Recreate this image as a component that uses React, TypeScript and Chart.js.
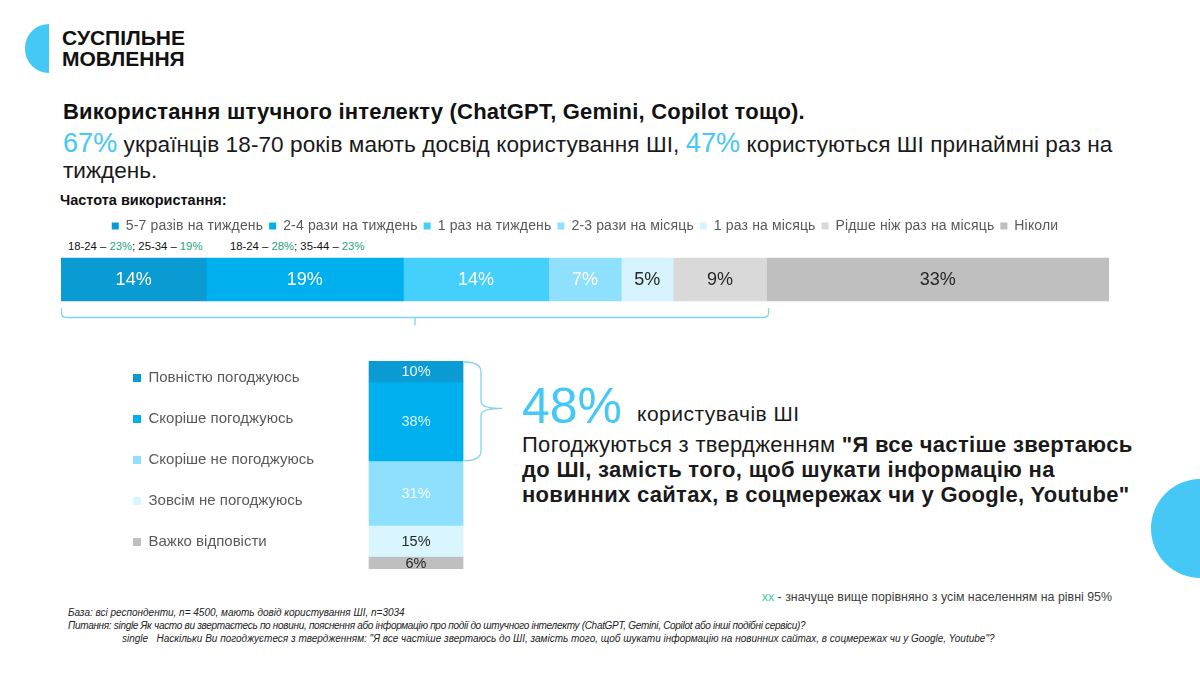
import React, { useEffect, useRef } from "react";
import { Chart, registerables } from "chart.js";

Chart.register(...registerables);

const FONT = "'Liberation Sans', Arial, sans-serif";
Chart.defaults.font.family = FONT;

// ---------- data ----------
const freqLabels = [
  "5-7 разів на тиждень",
  "2-4 рази на тиждень",
  "1 раз на тиждень",
  "2-3 рази на місяць",
  "1 раз на місяць",
  "Рідше ніж раз на місяць",
  "Ніколи",
];
const freqValues = [14, 19, 14, 7, 5, 9, 33];
const freqColors = ["#0a9bd2", "#00b0ee", "#45cffb", "#8fe0fc", "#d6f3fd", "#d9d9d9", "#bfbfbf"];
const freqTextColors = ["#ffffff", "#ffffff", "#ffffff", "#ffffff", "#262626", "#262626", "#262626"];
const freqBracketSeries = 6; // series covered by the bracket (users of AI)

const agreeLabels = [
  "Повністю погоджуюсь",
  "Скоріше погоджуюсь",
  "Скоріше не погоджуюсь",
  "Зовсім не погоджуюсь",
  "Важко відповісти",
];
const agreeValues = [10, 38, 31, 15, 6];
const agreeColors = ["#0a9bd2", "#00b0ee", "#8fe0fc", "#d9f5fd", "#bfbfbf"];
const agreeTextColors = ["#eaf7fc", "#d8f2fb", "#f4fbff", "#262626", "#262626"];
const agreeBracketSeries = 2;

const ACCENT = "#45c8f5";
const BRACKET = "#7fd3f2";

// ---------- plugins ----------
const spacingPlugin = {
  id: "spacing",
  beforeUpdate(chart: any, _a: any, opts: any) {
    (chart.ctx as any).letterSpacing = opts.value || "0px";
  },
  beforeDraw(chart: any, _a: any, opts: any) {
    (chart.ctx as any).letterSpacing = opts.value || "0px";
  },
};

const segLabels = {
  id: "segLabels",
  afterDatasetsDraw(chart: any, _a: any, opts: any) {
    const { ctx } = chart;
    ctx.save();
    (ctx as any).letterSpacing = "0px";
    ctx.textAlign = "center";
    ctx.textBaseline = "middle";
    ctx.font = `${opts.size || 16}px ${FONT}`;
    chart.data.datasets.forEach((ds: any, i: number) => {
      const meta = chart.getDatasetMeta(i);
      meta.data.forEach((el: any, j: number) => {
        const p = el.getCenterPoint();
        ctx.fillStyle = opts.colors[i];
        ctx.fillText(`${ds.data[j]}%`, p.x, p.y + 1);
      });
    });
    ctx.restore();
  },
};

const hBracket = {
  id: "hBracket",
  afterDatasetsDraw(chart: any) {
    const { ctx } = chart;
    const xs = chart.scales.x;
    const el = chart.getDatasetMeta(0).data[0];
    const end = freqValues.slice(0, freqBracketSeries).reduce((a, b) => a + b, 0);
    const x0 = xs.getPixelForValue(0) + 0.5;
    const x1 = xs.getPixelForValue(end) + 2;
    const bottom = el.y + el.height / 2;
    const yTop = bottom + 7;
    const yLine = bottom + 16.5;
    const r = 5;
    const mid = (x0 + x1) / 2;
    ctx.save();
    ctx.strokeStyle = BRACKET;
    ctx.lineWidth = 1.3;
    ctx.beginPath();
    ctx.moveTo(x0, yTop);
    ctx.lineTo(x0, yLine - r);
    ctx.quadraticCurveTo(x0, yLine, x0 + r, yLine);
    ctx.lineTo(x1 - r, yLine);
    ctx.quadraticCurveTo(x1, yLine, x1, yLine - r);
    ctx.lineTo(x1, yTop);
    ctx.moveTo(mid, yLine);
    ctx.lineTo(mid, yLine + 8);
    ctx.stroke();
    ctx.restore();
  },
};

const vBracket = {
  id: "vBracket",
  afterDatasetsDraw(chart: any) {
    const { ctx } = chart;
    const ys = chart.scales.y;
    const el = chart.getDatasetMeta(0).data[0];
    const end = agreeValues.slice(0, agreeBracketSeries).reduce((a, b) => a + b, 0);
    const right = el.x + el.width / 2 + 1;
    const top = ys.getPixelForValue(0) + 1;
    const bot = ys.getPixelForValue(end);
    const mid = (top + bot) / 2 - 3;
    const xv = right + 17;
    const tip = right + 38;
    ctx.save();
    ctx.strokeStyle = BRACKET;
    ctx.lineWidth = 1.3;
    ctx.beginPath();
    ctx.moveTo(right, top);
    ctx.quadraticCurveTo(xv, top, xv, top + 10);
    ctx.lineTo(xv, mid - 7);
    ctx.quadraticCurveTo(xv, mid, tip, mid);
    ctx.moveTo(tip, mid);
    ctx.quadraticCurveTo(xv, mid, xv, mid + 7);
    ctx.lineTo(xv, bot - 10);
    ctx.quadraticCurveTo(xv, bot, right, bot);
    ctx.stroke();
    ctx.restore();
  },
};

// ---------- charts ----------
function FrequencyChart() {
  const ref = useRef<HTMLCanvasElement | null>(null);
  useEffect(() => {
    if (!ref.current) return;
    const total = freqValues.reduce((a, b) => a + b, 0);
    const chart = new Chart(ref.current, {
      type: "bar",
      data: {
        labels: [""],
        datasets: freqLabels.map((l, i) => ({
          label: l,
          data: [freqValues[i]],
          backgroundColor: freqColors[i],
          borderWidth: 0,
          barThickness: 43,
        })),
      },
      options: {
        indexAxis: "y",
        animation: false,
        responsive: true,
        maintainAspectRatio: false,
        layout: { padding: { left: 0, right: 0, top: 0, bottom: 14 } },
        scales: {
          x: { stacked: true, display: false, min: 0, max: total },
          y: { stacked: true, display: false },
        },
        plugins: {
          spacing: { value: "0.15px" },
          legend: {
            position: "top",
            labels: {
              boxWidth: 7,
              boxHeight: 7,
              padding: 6,
              color: "#595959",
              font: { size: 14, family: FONT },
            },
          },
          tooltip: { enabled: false },
          segLabels: { size: 18, colors: freqTextColors },
        } as any,
      },
      plugins: [spacingPlugin, segLabels, hBracket],
    });
    return () => chart.destroy();
  }, []);
  return (
    <div style={{ position: "absolute", left: 61, top: 213, width: 1048, height: 117 }}>
      <canvas ref={ref} />
    </div>
  );
}

function AgreeChart() {
  const ref = useRef<HTMLCanvasElement | null>(null);
  useEffect(() => {
    if (!ref.current) return;
    const total = agreeValues.reduce((a, b) => a + b, 0);
    const chart = new Chart(ref.current, {
      type: "bar",
      data: {
        labels: [""],
        datasets: agreeLabels.map((l, i) => ({
          label: l,
          data: [agreeValues[i]],
          backgroundColor: agreeColors[i],
          borderWidth: 0,
          barThickness: 94,
        })),
      },
      options: {
        animation: false,
        responsive: true,
        maintainAspectRatio: false,
        layout: { padding: 0 },
        scales: {
          x: {
            stacked: true,
            position: "top",
            grid: { display: false },
            border: { display: false },
            ticks: { display: false },
            afterFit: (s: any) => {
              s.height = 21;
            },
          },
          x2: {
            type: "category",
            labels: [""],
            position: "bottom",
            grid: { display: false },
            border: { display: false },
            ticks: { display: false },
            afterFit: (s: any) => {
              s.height = 11;
            },
          },
          y: { stacked: true, reverse: true, min: 0, max: total, display: false },
        } as any,
        plugins: {
          legend: {
            position: "left",
            align: "center",
            maxWidth: 320,
            labels: {
              boxWidth: 8,
              boxHeight: 8,
              padding: 26,
              color: "#595959",
              font: { size: 15, family: FONT },
            },
          },
          tooltip: { enabled: false },
          segLabels: { size: 14.5, colors: agreeTextColors },
        } as any,
      },
      plugins: [segLabels, vBracket],
    });
    return () => chart.destroy();
  }, []);
  return (
    <div style={{ position: "absolute", left: 107, top: 340, width: 401, height: 240 }}>
      <canvas ref={ref} />
    </div>
  );
}

// ---------- page ----------
const abs = (s: React.CSSProperties): React.CSSProperties => ({ position: "absolute", whiteSpace: "nowrap", ...s });

export default function App() {
  const green = "#1fa37a";
  return (
    <div
      style={{
        position: "absolute",
        left: 0,
        top: 0,
        width: 1200,
        height: 675,
        overflow: "hidden",
        background: "#ffffff",
        fontFamily: FONT,
        color: "#1a1a1a",
      }}
    >
      {/* logo */}
      <div style={abs({ left: 25, top: 24, width: 24, height: 49, background: ACCENT, borderRadius: "49px 0 0 49px" })} />
      <div style={abs({ left: 62, top: 27, fontSize: 21, lineHeight: "21px", fontWeight: 700, color: "#111" })}>
        СУСПІЛЬНЕ
        <br />
        МОВЛЕННЯ
      </div>

      {/* title */}
      <div
        style={abs({ left: 63, top: 99, fontSize: 22, lineHeight: "26px", fontWeight: 700, color: "#111", letterSpacing: "0.2px" })}
      >
        Використання штучного інтелекту (ChatGPT, Gemini, Copilot тощо).
      </div>
      <div style={abs({ left: 63, top: 128, fontSize: 22.6, lineHeight: "30px", color: "#1a1a1a", letterSpacing: "0.07px" })}>
        <span style={{ color: ACCENT, fontSize: 27 }}>67%</span> українців 18-70 років мають досвід користування ШІ,{" "}
        <span style={{ color: ACCENT, fontSize: 27 }}>47%</span> користуються ШІ принаймні раз на
      </div>
      <div style={abs({ left: 63, top: 157, fontSize: 22.6, lineHeight: "28px", color: "#1a1a1a" })}>тиждень.</div>

      <div style={abs({ left: 60, top: 192, fontSize: 14.5, lineHeight: "16px", fontWeight: 700, color: "#111" })}>
        Частота використання:
      </div>

      <div style={abs({ left: 68, top: 240, fontSize: 11.3, lineHeight: "13px", color: "#111" })}>
        18-24 – <span style={{ color: green }}>23%</span>; 25-34 – <span style={{ color: green }}>19%</span>
      </div>
      <div style={abs({ left: 230, top: 240, fontSize: 11.3, lineHeight: "13px", color: "#111" })}>
        18-24 – <span style={{ color: green }}>28%</span>; 35-44 – <span style={{ color: green }}>23%</span>
      </div>

      <FrequencyChart />
      <AgreeChart />

      {/* right statement */}
      <div style={abs({ left: 522, top: 381, fontSize: 50, lineHeight: "50px", color: ACCENT })}>48%</div>
      <div style={abs({ left: 637, top: 403, fontSize: 21, lineHeight: "21px", color: "#1a1a1a", letterSpacing: "0.5px" })}>
        користувачів ШІ
      </div>
      <div style={abs({ left: 522, top: 432, fontSize: 22, lineHeight: "25px", color: "#1a1a1a", letterSpacing: "0.3px" })}>
        Погоджуються з твердженням <b>"Я все частіше звертаюсь</b>
        <br />
        <b>до ШІ, замість того, щоб шукати інформацію на</b>
        <br />
        <b>новинних сайтах, в соцмережах чи у Google, Youtube"</b>
      </div>

      {/* decorative circle */}
      <div style={abs({ left: 1151, top: 479, width: 99, height: 99, borderRadius: "50%", background: ACCENT })} />

      {/* notes */}
      <div style={abs({ right: 88, top: 590, fontSize: 12.4, lineHeight: "14px", color: "#404040" })}>
        <span style={{ color: "#44c9a0" }}>xx</span> - значуще вище порівняно з усім населенням на рівні 95%
      </div>
      <div style={abs({ left: 68, top: 606, fontSize: 10, lineHeight: "13px", fontStyle: "italic", color: "#222" })}>
        База: всі респонденти, n= 4500, мають довід користування ШІ, n=3034
      </div>
      <div
        style={abs({ left: 68, top: 619, fontSize: 10, lineHeight: "13px", fontStyle: "italic", color: "#222", letterSpacing: "-0.3px" })}
      >
        Питання: single Як часто ви звертаєтесь по новини, пояснення або інформацію про події до штучного інтелекту
        (ChatGPT, Gemini, Copilot або інші подібні сервіси)?
      </div>
      <div style={abs({ left: 122, top: 632, fontSize: 10, lineHeight: "13px", fontStyle: "italic", color: "#222" })}>
        single&nbsp;&nbsp; Наскільки Ви погоджуєтеся з твердженням: "Я все частіше звертаюсь до ШІ, замість того, щоб
        шукати інформацію на новинних сайтах, в соцмережах чи у Google, Youtube"?
      </div>
    </div>
  );
}
